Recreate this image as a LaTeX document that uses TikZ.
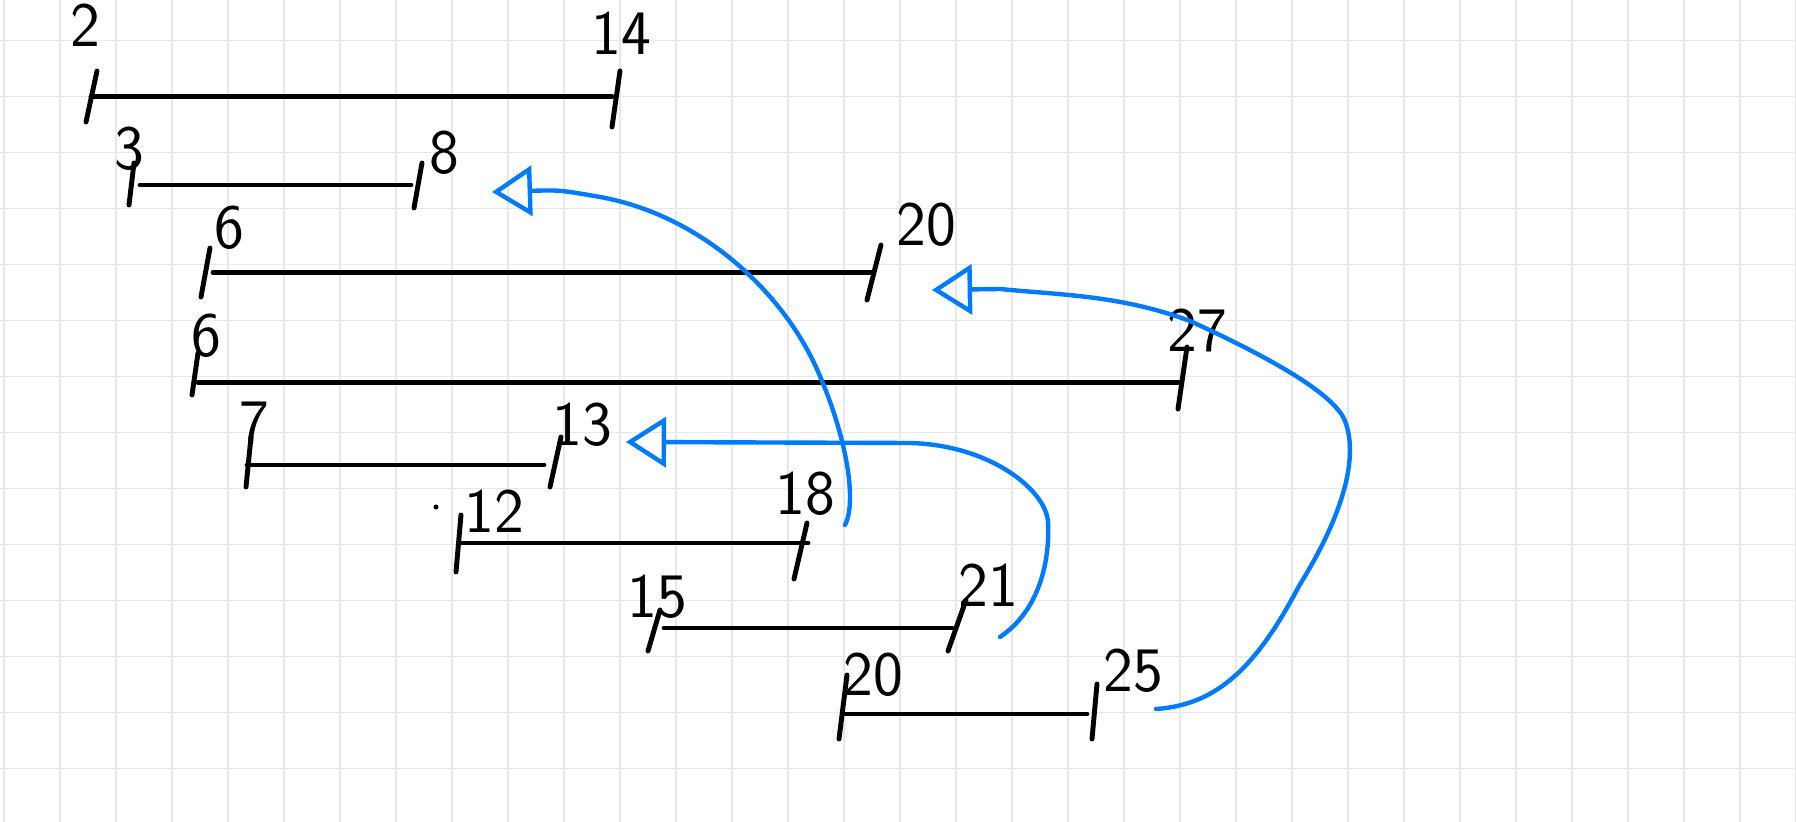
\documentclass[tikz,border=0pt]{standalone}
\usepackage{amsmath}
\usepackage{xcolor}
\usetikzlibrary{arrows.meta}
\definecolor{penblue}{RGB}{0,122,255}
\definecolor{gridgray}{RGB}{232,232,232}

\begin{document}
\begin{tikzpicture}[x=0.01cm, y=-0.01cm,
    >={Triangle[open, length=0.4cm, width=0.5cm]},
    seg/.style={line width=1.4pt, line cap=round},
    flow/.style={->, penblue, line width=1.25pt, line cap=round, line join=round},
    num/.style={font=\sffamily\fontsize{18}{21}\selectfont, inner sep=0pt}]
    \fill[white] (0,0) rectangle (1796,822);
    \useasboundingbox (0,0) rectangle (1796,822);
    % grid paper
    \foreach \gx in {0,...,32}
        \draw[gridgray, line width=0.5pt] ({4+56*\gx},0) -- ({4+56*\gx},822);
    \foreach \gy in {0,...,13}
        \draw[gridgray, line width=0.5pt] (0,{40.5+56*\gy}) -- (1796,{40.5+56*\gy});

    % 2 -- 14
    \coordinate (p1a) at (91,96.7);
    \coordinate (p1b) at (612,96.7);
    \draw[seg] (p1a) -- (p1b);
    \draw[seg] (97,71) -- (86,122);
    \draw[seg] (620,71) -- (612,127);
    \node[num] (l1a) at (85,25) {2};
    \node[num] (l1b) at (621,33) {14};

    % 3 -- 8
    \coordinate (p2a) at (140,185);
    \coordinate (p2b) at (411,185);
    \draw[seg] (p2a) -- (p2b);
    \draw[seg] (134,163) -- (129,205);
    \draw[seg] (422,163) -- (414,208);
    \node[num] (l2a) at (129,149) {3};
    \node[num] (l2b) at (444,153) {8};

    % 6 -- 20
    \coordinate (p3a) at (213,272.5);
    \coordinate (p3b) at (873,272.5);
    \draw[seg] (p3a) -- (p3b);
    \draw[seg] (210,248) -- (201,297);
    \draw[seg] (881,245) -- (867,300);
    \node[num] (l3a) at (229,228) {6};
    \node[num] (l3b) at (926,225) {20};

    % 6 -- 27
    \coordinate (p4a) at (198,382.3);
    \coordinate (p4b) at (1179,382.3);
    \draw[seg] (p4a) -- (p4b);
    \draw[seg] (198,353) -- (192,395);
    \draw[seg] (1187,347) -- (1178,409);
    \node[num] (l4a) at (206,336) {6};
    \node[num] (l4b) at (1197,330) {27};

    % 7 -- 13
    \coordinate (p5a) at (247,465);
    \coordinate (p5b) at (544,465);
    \draw[seg] (p5a) -- (p5b);
    \draw[seg] (251,437) -- (246,487);
    \draw[seg] (561,437) -- (550,487);
    \node[num] (l5a) at (254,423) {7};
    \node[num] (l5b) at (582,425) {13};

    % 12 -- 18
    \coordinate (p6a) at (462,543);
    \coordinate (p6b) at (808,543);
    \draw[seg] (p6a) -- (p6b);
    \draw[seg] (461,515) -- (456,572);
    \draw[seg] (807,523) -- (794,579);
    \node[num] (l6a) at (494,511) {12};
    \node[num] (l6b) at (805,494) {18};
    \fill (436,507) circle[radius=0.025cm];

    % 15 -- 21
    \coordinate (p7a) at (664,628);
    \coordinate (p7b) at (952,628);
    \draw[seg] (p7a) -- (p7b);
    \draw[seg] (660,610) -- (648,651);
    \draw[seg] (966,600) -- (948,651);
    \node[num] (l7a) at (657,597) {15};
    \node[num] (l7b) at (988,585) {21};

    % 20 -- 25
    \coordinate (p8a) at (844,714);
    \coordinate (p8b) at (1087,714);
    \draw[seg] (p8a) -- (p8b);
    \draw[seg] (847,675) -- (839,739);
    \draw[seg] (1097,684) -- (1092,739);
    \node[num] (l8a) at (873,675) {20};
    \node[num] (l8b) at (1133,671) {25};

    % blue arrows
    \coordinate (f1) at (845,525);
    \coordinate (h1) at (492,192);
    \coordinate (f2) at (1000,637);
    \coordinate (h2) at (626,442);
    \coordinate (f3) at (1156,709);
    \coordinate (h3) at (932,290);
    \draw[flow] (f1) .. controls (858,500) and (845,430) .. (815,365)
        .. controls (780,290) and (700,215) .. (600,197)
        .. controls (560,190) .. (h1);
    \draw[flow] (f2) .. controls (1040,610) and (1050,560) .. (1048,522)
        .. controls (1046,490) and (990,445) .. (910,443) -- (h2);
    \draw[flow] (f3) .. controls (1215,705) and (1255,670) .. (1299,586)
        .. controls (1340,520) and (1360,460) .. (1345,421)
        .. controls (1335,395) and (1275,360) .. (1190,321)
        .. controls (1120,295) and (1060,295) .. (1000,289) -- (h3);
\end{tikzpicture}
\end{document}
